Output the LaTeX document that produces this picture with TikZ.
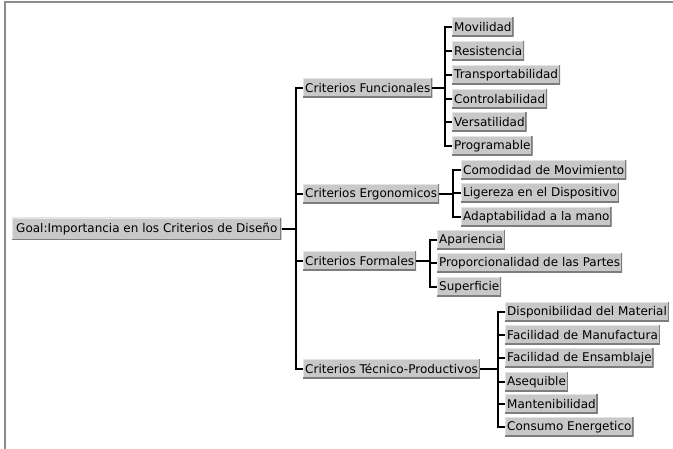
\documentclass[tikz,border=0pt]{standalone}
\usepackage{fontspec}
\setmainfont{DejaVu Sans}
\definecolor{boxfill}{RGB}{200,200,200}
\definecolor{boxdark}{RGB}{125,125,125}
\definecolor{boxlight}{RGB}{228,228,228}
\definecolor{framegray}{RGB}{140,140,140}
\tikzset{
  crit/.style={anchor=west, fill=boxfill, inner xsep=2pt, inner ysep=0pt,
    minimum height=19pt, font=\fontsize{12}{13}\selectfont,
    path picture={
      \draw[boxlight,line width=1.6pt] (path picture bounding box.south west)
        -- (path picture bounding box.north west) -- (path picture bounding box.north east);
      \draw[boxdark,line width=2.6pt] (path picture bounding box.south west)
        -- (path picture bounding box.south east) -- (path picture bounding box.north east);}},
  link/.style={black, line width=1.1pt}
}

\begin{document}
\begin{tikzpicture}[x=1pt,y=-1pt]
  \useasboundingbox (0,0) rectangle (673,449);
  \draw[framegray,line width=2pt] (4.5,449) -- (4.5,2.5) -- (673,2.5);

  \node[crit,minimum height=22pt,inner xsep=4pt] (goal) at (12,229) {Goal:Importancia en los Criterios de Diseño};

  \node[crit] (func) at (303,88)  {Criterios Funcionales};
  \node[crit] (ergo) at (303,194) {Criterios Ergonomicos};
  \node[crit] (form) at (303,261) {Criterios Formales};
  \node[crit] (tecn) at (303,369) {Criterios Técnico-Productivos};

  \coordinate (gbus) at (296,229);
  \coordinate (fbus) at (445,88);
  \coordinate (ebus) at (453,194);
  \coordinate (pbus) at (430,261);
  \coordinate (tbus) at (498,369);

  \foreach \nm in {func,ergo,form,tecn}
    \draw[link] (goal.east) -- (gbus) |- (\nm.west);

  % funcionales
  \foreach \nm/\yy/\txt in {mov/27/Movilidad, res/51/Resistencia,
      tra/75/Transportabilidad, con/99/Controlabilidad,
      ver/122/Versatilidad, pro/146/Programable}{
    \node[crit] (\nm) at (452,\yy) {\txt};
    \draw[link] (func.east) -- (fbus) |- (\nm.west);
  }

  % ergonomicos
  \foreach \nm/\yy/\txt in {com/170/Comodidad de Movimiento,
      lig/193/Ligereza en el Dispositivo, ada/217/Adaptabilidad a la mano}{
    \node[crit] (\nm) at (461,\yy) {\txt};
    \draw[link] (ergo.east) -- (ebus) |- (\nm.west);
  }

  % formales
  \foreach \nm/\yy/\txt in {apa/240/Apariencia,
      prp/263/Proporcionalidad de las Partes, sup/287/Superficie}{
    \node[crit] (\nm) at (437,\yy) {\txt};
    \draw[link] (form.east) -- (pbus) |- (\nm.west);
  }

  % tecnico-productivos
  \foreach \nm/\yy/\txt in {dis/312/Disponibilidad del Material,
      man/335/Facilidad de Manufactura, ens/358/Facilidad de Ensamblaje,
      ase/382/Asequible, mnt/404/Mantenibilidad, ene/427/Consumo Energetico}{
    \node[crit] (\nm) at (505,\yy) {\txt};
    \draw[link] (tecn.east) -- (tbus) |- (\nm.west);
  }
\end{tikzpicture}
\end{document}
